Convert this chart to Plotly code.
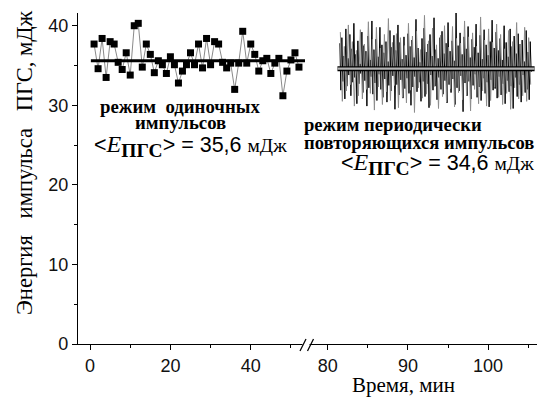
import plotly.graph_objects as go

# ---------------- data ----------------
single_minutes = list(range(1, 53))
single_energy = [37.7, 34.6, 38.4, 33.5, 38.0, 37.7, 35.4, 34.5, 36.6, 33.8,
                 40.0, 40.3, 34.8, 37.7, 36.4, 34.1, 35.6, 35.1, 34.0, 36.1,
                 35.1, 32.8, 34.3, 35.1, 36.6, 35.1, 37.7, 34.7, 38.4, 35.1,
                 38.0, 37.7, 35.4, 34.7, 35.3, 32.0, 35.3, 39.3, 35.3, 37.7,
                 36.4, 34.3, 35.6, 35.9, 34.0, 35.3, 35.9, 31.2, 34.3, 35.7,
                 36.6, 34.8]
single_mean = 35.6
single_mean_span = [0.2, 53.5]

periodic_black_start = 81.5
periodic_black_step = 0.125
periodic_black = [
    37.8, 31.9, 38.5, 33.0, 36.2, 30.8, 39.6, 32.4, 35.9, 33.8, 38.9, 31.2, 37.1, 32.9, 40.3, 33.5,
    36.4, 30.2, 38.1, 32.7, 35.2, 34.0, 39.2, 31.6, 37.5, 33.1, 36.8, 29.9, 38.7, 32.2, 35.7, 33.6,
    40.6, 31.4, 37.0, 32.8, 38.3, 30.6, 36.1, 33.9, 39.8, 32.0, 37.6, 31.0, 36.6, 33.3, 38.0, 30.4,
    35.5, 32.5, 39.4, 31.8, 37.3, 33.7, 38.8, 29.5, 36.9, 32.6, 40.1, 31.3, 37.9, 33.2, 35.8, 30.9,
    38.6, 32.1, 36.3, 33.4, 39.0, 31.5, 37.4, 30.0, 38.2, 32.3, 36.0, 33.6, 40.8, 31.7, 37.2, 32.9,
    35.4, 30.5, 38.4, 33.0, 39.7, 31.1, 36.7, 32.7, 37.7, 29.7, 38.9, 33.8, 36.2, 31.9, 41.0, 32.4,
    37.0, 30.7, 35.9, 33.5, 38.5, 32.0, 39.3, 31.4, 36.5, 33.1, 37.8, 30.3, 40.4, 32.6, 36.8, 31.6,
    38.1, 33.3, 35.6, 30.1, 42.0, 32.2, 37.5, 31.8, 39.1, 33.7, 36.4, 29.2, 38.6, 32.8, 37.1, 31.2,
    39.9, 33.0, 36.0, 30.8, 38.3, 32.5, 37.3, 33.9, 40.2, 31.0, 36.6, 32.3, 38.8, 30.6, 35.8, 33.4,
    39.5, 31.5, 37.6, 32.9, 36.3, 29.8, 38.0, 33.2, 40.7, 31.9, 37.2, 32.1, 39.2, 30.9, 36.9, 33.6,
    38.4, 31.3, 35.7, 32.7, 40.0, 30.2, 37.9, 33.1, 36.1, 31.7, 39.6, 32.4, 37.4, 29.6, 38.7, 33.5,
    36.5, 31.1, 39.0, 32.6, 37.7, 30.4, 38.2, 33.8, 35.5, 31.6, 39.4, 32.0, 36.7, 30.7, 38.0, 34.2,
]
periodic_gray_start = 81.56
periodic_gray_step = 0.25
periodic_gray = [
    39.2, 30.5, 37.4, 31.8, 40.1, 32.6, 38.0, 29.9, 36.9, 31.2, 39.5, 30.8, 37.7, 32.0, 40.5, 31.5,
    38.3, 29.4, 39.8, 32.3, 37.2, 30.1, 38.9, 31.7, 40.9, 30.6, 37.9, 32.5, 39.0, 29.7, 38.5, 31.0,
    37.5, 30.3, 40.3, 31.9, 38.7, 29.1, 39.3, 32.2, 37.0, 30.9, 41.3, 31.4, 38.1, 30.0, 39.7, 32.4,
    37.6, 29.6, 38.8, 31.1, 40.0, 30.4, 37.3, 32.1, 39.9, 29.8, 38.4, 31.6, 37.8, 30.7, 40.6, 31.3,
    38.6, 29.3, 39.1, 32.0, 37.4, 30.2, 41.1, 31.8, 38.2, 29.9, 39.6, 30.6, 37.9, 32.3, 40.2, 31.0,
    38.9, 30.1, 37.1, 31.5, 39.4, 29.5, 38.0, 32.2, 40.4, 30.8, 37.7, 31.2, 39.8, 30.5, 38.5, 32.6,
]
periodic_mean = 34.6
periodic_mean_span = [81.2, 105.8]

y_ticks = [0, 10, 20, 30, 40]
x1_ticks = [0, 20, 40]
x2_ticks = [80, 90, 100]

texts_single = ["режим&nbsp;&nbsp;одиночных", "импульсов"]
texts_periodic = ["режим периодически", "повторяющихся импульсов"]
y_title = "Энергия&nbsp;&nbsp;&nbsp;импульса&nbsp;&nbsp;&nbsp;ПГС, мДж"
x_title = "Время, мин"

# ---------------- layout helpers ----------------
OFF = 8  # page body margin
W, H = 547 - OFF, 400 - OFF
L, T = 78 - OFF, 13 - OFF
R = W - (537 - OFF)
B = H - (344 - OFF)
PW, PH = W - L - R, H - T - B
split = (307 - 78) / PW


def pxx(x):  # page pixel -> paper
    return (x - OFF - L) / PW


def pxy(y):
    return (H - B - (y - OFF)) / PH


SERIF = "Liberation Serif"
SANS = "Liberation Sans"

fig = go.Figure()

# single-pulse regime
fig.add_trace(go.Scatter(
    x=single_minutes, y=single_energy, mode="lines+markers",
    line=dict(color="#8a8a8a", width=1),
    marker=dict(symbol="square", size=7, color="black"),
    xaxis="x", yaxis="y", showlegend=False, hoverinfo="skip"))
fig.add_trace(go.Scatter(
    x=single_mean_span, y=[single_mean, single_mean], mode="lines",
    line=dict(color="black", width=3),
    xaxis="x", yaxis="y", showlegend=False, hoverinfo="skip"))

# periodic regime
xb = [periodic_black_start + i * periodic_black_step for i in range(len(periodic_black))]
xg = [periodic_gray_start + i * periodic_gray_step for i in range(len(periodic_gray))]
fig.add_trace(go.Scatter(
    x=xb, y=periodic_black, mode="lines", line=dict(color="black", width=1, simplify=False),
    xaxis="x2", yaxis="y", showlegend=False, hoverinfo="skip"))
fig.add_trace(go.Scatter(
    x=xg, y=periodic_gray, mode="lines", line=dict(color="#8c8c8c", width=1, simplify=False),
    xaxis="x2", yaxis="y", showlegend=False, hoverinfo="skip"))
fig.add_trace(go.Scatter(
    x=periodic_mean_span, y=[periodic_mean, periodic_mean], mode="lines",
    line=dict(color="black", width=5),
    xaxis="x2", yaxis="y", showlegend=False, hoverinfo="skip"))
fig.add_trace(go.Scatter(
    x=periodic_mean_span, y=[periodic_mean, periodic_mean], mode="lines",
    line=dict(color="#b4b4b4", width=2.2),
    xaxis="x2", yaxis="y", showlegend=False, hoverinfo="skip"))

axis_common = dict(
    showline=True, linecolor="black", linewidth=1.3, ticks="outside",
    ticklen=5, tickwidth=1.2, tickcolor="black", showgrid=False, zeroline=False,
    tickfont=dict(family=SANS, size=18, color="#111"),
)
fig.update_layout(
    width=W, height=H, margin=dict(l=L, r=R, t=T, b=B),
    paper_bgcolor="white", plot_bgcolor="white",
    xaxis=dict(domain=[0, split], range=[-3, 54], tickvals=x1_ticks,
               minor=dict(dtick=10, tick0=0, ticklen=3, tickwidth=1.2, tickcolor="black", ticks="outside"),
               anchor="y", **axis_common),
    xaxis2=dict(domain=[split, 1], range=[77.4, 106.1], tickvals=x2_ticks,
                minor=dict(dtick=5, tick0=80, ticklen=3, tickwidth=1.2, tickcolor="black", ticks="outside"),
                anchor="y", **axis_common),
    yaxis=dict(range=[0, 41.6], tickvals=y_ticks,
               minor=dict(dtick=5, tick0=0, ticklen=3, tickwidth=1.2, tickcolor="black", ticks="outside"),
               **axis_common),
)

# axis break marks
fig.add_shape(type="line", xref="paper", yref="paper",
              x0=pxx(302.5), x1=pxx(309.5), y0=pxy(344), y1=pxy(344),
              line=dict(color="white", width=4), layer="above")
for x0 in (300, 307.5):
    fig.add_shape(type="line", xref="paper", yref="paper",
                  x0=pxx(x0), y0=pxy(351), x1=pxx(x0 + 6), y1=pxy(339),
                  line=dict(color="black", width=1.3), layer="above")


def serif(text, size, bold=False, italic=False):
    st = f"font-family:{SERIF},serif;font-size:{size}px"
    if bold:
        st += ";font-weight:bold"
    if italic:
        st += ";font-style:italic"
    return f"<span style='{st}'>{text}</span>"


def ann(text, x, y, xanchor="left", yanchor="middle", size=18, angle=0):
    fig.add_annotation(text=text, xref="paper", yref="paper", x=pxx(x), y=pxy(y),
                       xanchor=xanchor, yanchor=yanchor, showarrow=False, textangle=angle,
                       font=dict(family=SANS, size=size, color="black"))


def formula(mean):
    val = f"{mean:.1f}".replace(".", ",")
    return ("&lt;" + serif("E", 24, italic=True)
            + "<sub>" + serif("ПГС", 19.5, bold=True) + "</sub>"
            + f"&gt; = {val} " + serif("мДж", 19.5))


ann(serif(texts_single[0], 18.8, bold=True), 180, 106, xanchor="center", size=19)
ann(serif(texts_single[1], 18.8, bold=True), 180, 122, xanchor="center", size=19)
ann(formula(single_mean), 92, 146, size=21.5)

ann(serif(texts_periodic[0], 18.6, bold=True), 302, 125, size=19)
ann(serif(texts_periodic[1], 18.6, bold=True), 302, 142, size=19)
ann(formula(periodic_mean), 339, 164, size=21.5)

ann(serif(y_title, 22.5), 24, 163, xanchor="center", size=22, angle=-90)
ann(serif(x_title, 21), 403, 385, xanchor="center", size=21)

fig.write_html("out.html")
